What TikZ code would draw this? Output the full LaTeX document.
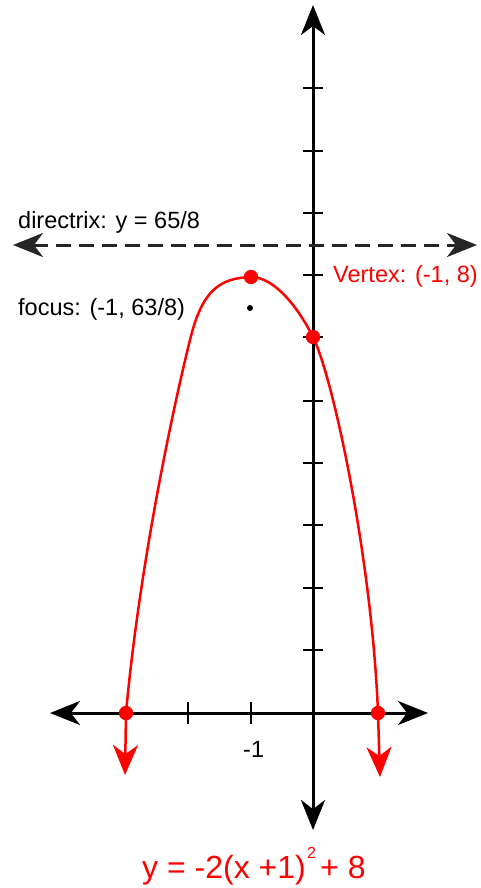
\documentclass[tikz,border=0pt]{standalone}
\usepackage{fontspec}
\setmainfont{Liberation Sans}
\usetikzlibrary{arrows.meta}
\begin{document}
\begin{tikzpicture}[x=1pt,y=-1pt,
  blkarrow/.style={{Stealth[length=30pt,width=24pt,inset=9pt]}-{Stealth[length=30pt,width=24pt,inset=9pt]}},
  axisline/.style={line width=3pt, black, blkarrow},
  tickline/.style={line width=2.5pt, black},
  curveline/.style={line width=2.5pt, red, {Stealth[length=30pt,width=25pt,inset=9pt]}-{Stealth[length=30pt,width=25pt,inset=9pt]}},
  reddot/.style={circle, fill=red, inner sep=0pt, minimum size=14pt},
  blackdot/.style={circle, fill=black, inner sep=0pt, minimum size=6pt},
  lbl/.style={font=\fontsize{23.5}{26}\selectfont, inner sep=0pt, anchor=base west},
  ttl/.style={font=\fontsize{32}{36}\selectfont, inner sep=0pt, anchor=base west, text=red}]
\useasboundingbox (0,0) rectangle (481,888);
% axes
\coordinate (ytop) at (313,5);
\coordinate (ybot) at (313,830);
\coordinate (xl) at (50,713);
\coordinate (xr) at (428,713);
\coordinate (dl) at (13,245);
\coordinate (dr) at (477,245);
\draw[axisline] (ybot) -- (ytop);
\draw[axisline] (xl) -- (xr);
% y ticks
\foreach \yy in {88,151,213,275,337,401,463,525,588,650}
  \draw[tickline] (303,\yy) -- (323,\yy);
% x ticks
\foreach \xx in {188,251}
  \draw[tickline] (\xx,702) -- (\xx,724);
% directrix
\draw[line width=3pt, black!85, dash pattern=on 15pt off 8pt, blkarrow] (dl) -- (dr);
% points
\node[reddot] (xint1) at (126,713) {};
\node[reddot] (xint2) at (378,713) {};
\node[reddot] (yint) at (313,337) {};
\node[reddot] (vertex) at (251,277) {};
\node[blackdot] (focus) at (250,308) {};
\coordinate (lend) at (125,775);
\coordinate (rend) at (380,777);
% parabola
\draw[curveline] (lend) -- (xint1.center)
  .. controls (140,560) and (175,400) .. (190,340)
  .. controls (202,290) and (220,278) .. (vertex.center)
  .. controls (275,277) and (299,309) .. (yint.center)
  .. controls (333,377) and (372,560) .. (xint2.center)
  -- (rend);
% redraw dots on top
\foreach \p in {xint1,xint2,yint,vertex}
  \fill[red] (\p.center) circle (7pt);
% labels
\node[lbl] (ldir) at (18,228) {directrix: y = 65/8};
\node[lbl] (lfoc) at (18,315) {focus: (-1, 63/8)};
\node[lbl, text=red] (lver) at (333,282) {Vertex: (-1, 8)};
\node[lbl] (lm1) at (243,757) {-1};
\node[ttl] (title) at (142,878) {y = -2(x +1)};
\node[ttl, font=\fontsize{16}{18}\selectfont] (titlesup) at (307,858) {2};
\node[ttl] (titleend) at (320,878) {+ 8};
\end{tikzpicture}
\end{document}
